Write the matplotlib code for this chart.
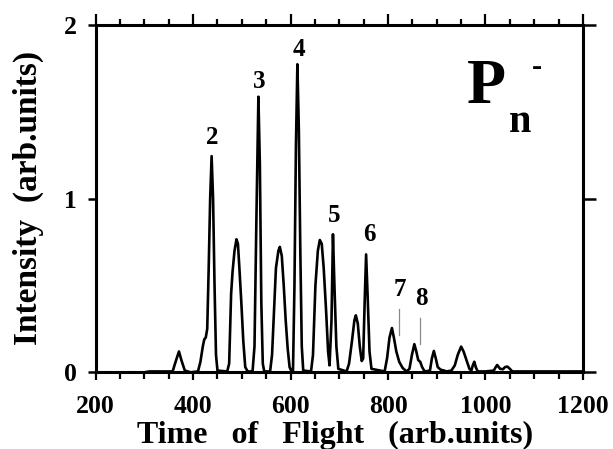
import matplotlib
matplotlib.use("Agg")
import matplotlib.pyplot as plt
from matplotlib.ticker import MultipleLocator

# ---- data ----
tof = [200, 300, 310, 340, 358, 364, 371, 376, 383, 395,
       410, 415, 420, 423, 426, 429, 432, 435, 438, 441, 444, 447, 450,
       470, 474, 478, 481, 485, 489, 492, 495, 499, 503, 507, 512,
       522, 526, 530, 534, 537, 540, 543, 546,
       558, 562, 566, 570, 575, 578, 582, 586, 590, 594, 598, 602,
       605, 608, 611, 614, 617, 620, 623, 626,
       642, 646, 651, 656, 660, 664, 668, 673, 677, 680, 684, 687, 690, 694, 698,
       715, 720, 726, 731, 734, 738, 742, 746, 749, 752, 755, 758, 762, 766,
       793, 798, 803, 808, 812, 817, 823, 830, 838,
       844, 849, 854, 858, 862, 866, 870, 875,
       886, 890, 894, 898, 902, 908, 915, 920,
       930, 937, 943, 950, 955, 961, 967, 971, 974, 977, 980, 984,
       1000, 1017, 1021, 1024, 1030, 1036, 1040, 1045, 1050, 1055,
       1100, 1150, 1200]
intensity = [0.0, 0.0, 0.005, 0.005, 0.005, 0.06, 0.12, 0.07, 0.01, 0.0,
             0.005, 0.06, 0.15, 0.19, 0.20, 0.25, 0.60, 1.00, 1.245, 1.0, 0.50, 0.10, 0.01,
             0.005, 0.05, 0.45, 0.58, 0.70, 0.766, 0.74, 0.60, 0.40, 0.18, 0.03, 0.005,
             0.005, 0.15, 0.90, 1.587, 1.20, 0.40, 0.05, 0.005,
             0.005, 0.10, 0.35, 0.60, 0.70, 0.722, 0.67, 0.50, 0.30, 0.14, 0.03, 0.005,
             0.01, 0.50, 1.30, 1.774, 1.40, 0.70, 0.15, 0.01,
             0.005, 0.10, 0.50, 0.70, 0.762, 0.74, 0.60, 0.35, 0.12, 0.04, 0.30, 0.795, 0.50, 0.15, 0.02,
             0.005, 0.05, 0.18, 0.30, 0.328, 0.28, 0.15, 0.065, 0.08, 0.40, 0.679, 0.45, 0.12, 0.02,
             0.005, 0.08, 0.20, 0.255, 0.20, 0.12, 0.06, 0.025, 0.005,
             0.02, 0.10, 0.162, 0.12, 0.07, 0.061, 0.03, 0.005,
             0.01, 0.08, 0.123, 0.08, 0.03, 0.015, 0.01, 0.005,
             0.01, 0.04, 0.10, 0.148, 0.12, 0.07, 0.02, 0.01, 0.04, 0.061, 0.03, 0.005,
             0.005, 0.01, 0.03, 0.042, 0.02, 0.018, 0.03, 0.033, 0.02, 0.005,
             0.005, 0.005, 0.005]

peak_labels = ["2", "3", "4", "5", "6", "7", "8"]
label_x = [439, 536, 617, 690, 761, 825, 868]
label_y = [1.35, 1.677, 1.857, 0.905, 0.795, 0.477, 0.424]

marker_x = [823, 866]
marker_y0 = [0.216, 0.164]
marker_y1 = [0.365, 0.313]

x_ticks = [200, 400, 600, 800, 1000, 1200]
y_ticks = [0, 1, 2]

# ---- figure ----
FONT = "Liberation Serif"
fig = plt.figure(figsize=(6.13, 4.49), dpi=100)
ax = fig.add_axes([0.156, 0.1708, 0.795, 0.7735])

ax.plot(tof, intensity, color="black", lw=1.9, solid_joinstyle="round")

for xm, y0, y1 in zip(marker_x, marker_y0, marker_y1):
    ax.plot([xm, xm], [y0, y1], color="#8a8a8a", lw=0.9)

for t, xx, yy in zip(peak_labels, label_x, label_y):
    ax.text(xx, yy, t, ha="center", va="center", fontsize=18,
            fontweight="bold", family=FONT)

ax.text(961, 1.553, "P", ha="left", va="baseline", fontsize=46,
        fontweight="bold", family=FONT)
ax.text(1048, 1.386, "n", ha="left", va="baseline", fontsize=29,
        fontweight="bold", family=FONT)
ax.text(1105, 1.711, "-", ha="center", va="baseline", fontsize=22,
        fontweight="bold", family=FONT)

ax.set_xlim(200, 1200)
ax.set_ylim(0, 2)
ax.set_xticks(x_ticks)
ax.set_xticklabels([str(v) for v in x_ticks])
ax.xaxis.set_minor_locator(MultipleLocator(50))
ax.set_yticks(y_ticks)
ax.set_yticklabels([str(v) for v in y_ticks])

for s in ax.spines.values():
    s.set_linewidth(2.2)

ax.tick_params(axis="x", which="both", direction="out", top=True, bottom=True,
               width=1.6, labelsize=18.5, pad=11)
ax.tick_params(axis="x", which="major", length=5.5)
ax.tick_params(axis="x", which="minor", length=5)
ax.tick_params(axis="y", which="major", direction="out", left=True, right=True,
               length=6, width=1.8, labelsize=18.5, pad=7.5)
# longer top ticks
for tk in ax.xaxis.get_major_ticks():
    tk.tick2line.set_markersize(8)
for tk in ax.xaxis.get_minor_ticks():
    tk.tick2line.set_markersize(4)
for tk in ax.yaxis.get_major_ticks():
    tk.tick2line.set_markersize(9)

for lab in ax.get_xticklabels() + ax.get_yticklabels():
    lab.set_family(FONT)
    lab.set_fontweight("bold")

fig.text(0.5465, 1 - 442.5 / 449, "Time   of   Flight   (arb.units)", fontsize=23,
         fontweight="bold", family=FONT, ha="center", va="baseline")
fig.text(0.046, 1 - 197.5 / 449, "Intensity  (arb.units)", fontsize=24,
         fontweight="bold", family=FONT, ha="center", va="center",
         rotation=90)

fig.savefig("out.png", dpi=100)
